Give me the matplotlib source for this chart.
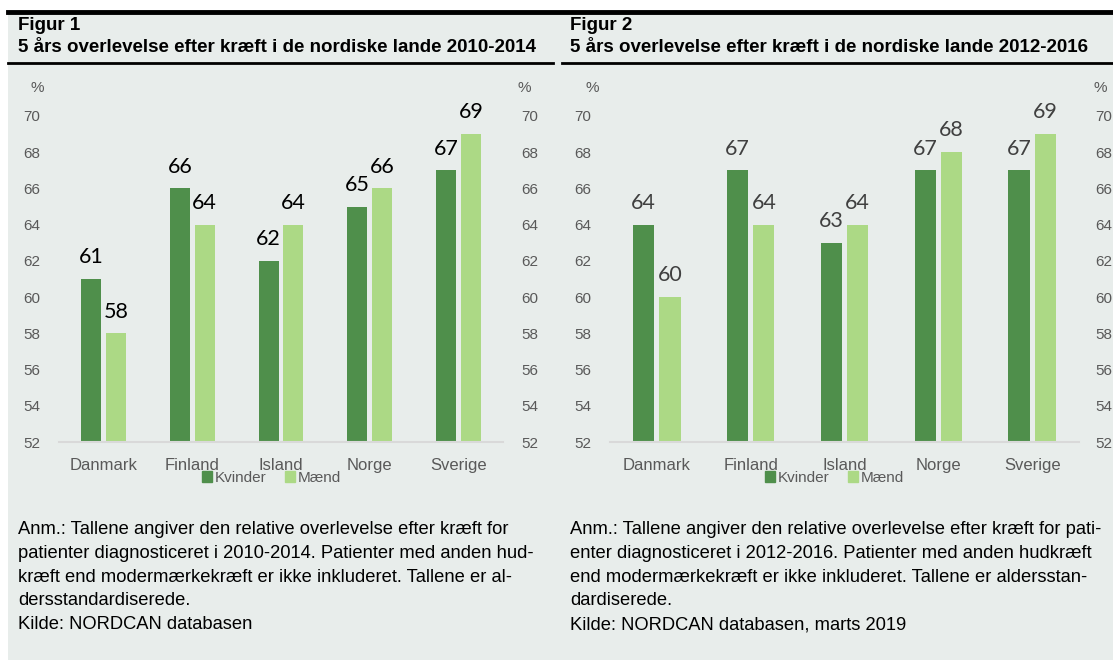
import numpy as np
import matplotlib
matplotlib.use("Agg")
import matplotlib.pyplot as plt
from matplotlib.lines import Line2D
from matplotlib.patches import Rectangle, Patch

# data
lande = ["Danmark", "Finland", "Island", "Norge", "Sverige"]
kvinder_1 = [61, 66, 62, 65, 67]
maend_1 = [58, 64, 64, 66, 69]
kvinder_2 = [64, 67, 63, 67, 67]
maend_2 = [60, 64, 64, 68, 69]
y_ticks = [52, 54, 56, 58, 60, 62, 64, 66, 68, 70]

titles = ["5 års overlevelse efter kræft i de nordiske lande 2010-2014",
          "5 års overlevelse efter kræft i de nordiske lande 2012-2016"]
notes = [
    "Anm.: Tallene angiver den relative overlevelse efter kræft for\n"
    "patienter diagnosticeret i 2010-2014. Patienter med anden hud-\n"
    "kræft end modermærkekræft er ikke inkluderet. Tallene er al-\n"
    "dersstandardiserede.\n"
    "Kilde: NORDCAN databasen",
    "Anm.: Tallene angiver den relative overlevelse efter kræft for pati-\n"
    "enter diagnosticeret i 2012-2016. Patienter med anden hudkræft\n"
    "end modermærkekræft er ikke inkluderet. Tallene er aldersstan-\n"
    "dardiserede.\n"
    "Kilde: NORDCAN databasen, marts 2019",
]

W, H = 1113, 660
BG = "#E8EDEB"
DARK = "#4F8F4B"
LIGHT = "#ACD985"
GREY = "#595959"

plt.rcParams["font.family"] = ["Liberation Sans", "DejaVu Sans"]

fig = plt.figure(figsize=(W / 100, H / 100), dpi=100)
fig.patch.set_facecolor("white")


def fx(px):
    return px / W


def fy(py):
    return 1 - py / H


fig.add_artist(Rectangle((fx(8), 0), 1 - fx(8), fy(12), transform=fig.transFigure,
                         facecolor=BG, edgecolor="none", zorder=0))
fig.add_artist(Line2D([fx(8), 1], [fy(11.5), fy(11.5)], color="black", lw=3.5,
                      transform=fig.transFigure))

panels = [
    dict(x0=18, left=59, right=503, k=kvinder_1, m=maend_1, lab="black",
         lx=(8, 553), pl=37, pr=524, rpad=10),
    dict(x0=570, left=610, right=1079, k=kvinder_2, m=maend_2, lab="#404040",
         lx=(562, 1113), pl=592, pr=1100, rpad=8.5),
]

for i, p in enumerate(panels):
    fig.text(fx(p["x0"]), fy(25), f"Figur {i + 1}", fontsize=13.5, fontweight="bold",
             va="center", ha="left")
    fig.text(fx(p["x0"]), fy(48), titles[i], fontsize=13.5, fontweight="bold",
             va="center", ha="left")
    fig.add_artist(Line2D([fx(p["lx"][0]), fx(p["lx"][1])], [fy(63), fy(63)],
                          color="black", lw=2, transform=fig.transFigure))

    ax = fig.add_axes([fx(p["left"]), fy(442), fx(p["right"] - p["left"]), (442 - 116) / H])
    ax.set_facecolor("none")
    ax2 = ax.twinx()  # right-hand axis labels

    x = np.arange(len(lande))
    b1 = ax.bar(x - 0.14, p["k"], width=0.225, color=DARK, label="Kvinder", zorder=2)
    b2 = ax.bar(x + 0.14, p["m"], width=0.225, color=LIGHT, label="Mænd", zorder=2)
    for bars in (b1, b2):
        for r in bars:
            ax.annotate(f"{r.get_height():.0f}", (r.get_x() + r.get_width() / 2, r.get_height()),
                        xytext=(0, 8.5), textcoords="offset points", ha="center", va="bottom",
                        fontsize=15.5, color=p["lab"], family=["Lato", "DejaVu Sans"])
    for a in (ax, ax2):
        a.set_ylim(52, 70)
        a.set_yticks(y_ticks)
        for s in a.spines.values():
            s.set_visible(False)
    ax.set_xlim(-0.5, len(lande) - 0.5)
    ax.set_xticks(x)
    ax.set_xticklabels(lande)
    ax.tick_params(axis="y", left=False, right=False, labelsize=11, labelcolor=GREY, pad=10)
    ax2.tick_params(axis="y", left=False, right=False, labelsize=11, labelcolor=GREY,
                    pad=p["rpad"])
    ax.tick_params(axis="x", bottom=False, labelsize=12, labelcolor=GREY, pad=8)
    ax.spines["bottom"].set_visible(True)
    ax.spines["bottom"].set_color("#D9D9D9")
    ax.spines["bottom"].set_linewidth(1.5)
    ax.spines["bottom"].set_zorder(3)

    fig.text(fx(p["pl"]), fy(88), "%", fontsize=11, color=GREY, ha="center", va="center")
    fig.text(fx(p["pr"]), fy(88), "%", fontsize=11, color=GREY, ha="center", va="center")

    ax.legend(handles=[Patch(color=DARK, label="Kvinder"), Patch(color=LIGHT, label="Mænd")],
              loc="center", bbox_to_anchor=(0.478, (442 - 478) / (442 - 116)), ncol=2,
              frameon=False, fontsize=11, handlelength=0.7, handleheight=0.7,
              handletextpad=0.15, columnspacing=1.2, labelcolor=GREY)

    fig.text(fx(p["x0"]), fy(521), notes[i], fontsize=13.2, va="top", ha="left",
             linespacing=1.52, color="black")

fig.savefig("out.png", dpi=100, facecolor=fig.get_facecolor())
